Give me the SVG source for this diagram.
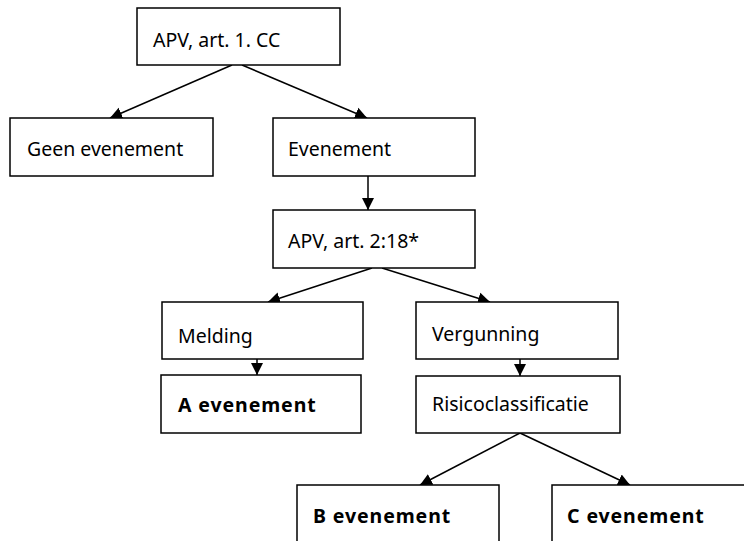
<svg xmlns="http://www.w3.org/2000/svg" width="744" height="541" viewBox="0 0 744 541">
<style>
.box{fill:#fff;stroke:#000;stroke-width:1.5}
.t{font-family:"Noto Sans","Open Sans",sans-serif;font-size:19.5px;fill:#000}
.b{font-weight:bold;letter-spacing:0.9px}
.c{stroke:#000;stroke-width:1.5;fill:none;marker-end:url(#ah)}
</style>
<defs>
<marker id="ah" markerUnits="userSpaceOnUse" markerWidth="13" markerHeight="13" refX="12" refY="6.5" orient="auto" viewBox="0 0 13 13">
<path d="M0,0.5 L12,6.5 L0,12.5 z" fill="#000"/>
</marker>
</defs>
<rect width="744" height="541" fill="#fff"/>
<g id="connectors">
<line class="c" x1="232" y1="65" x2="110" y2="118"/>
<line class="c" x1="242" y1="65" x2="367" y2="118"/>
<line class="c" x1="368" y1="176" x2="368" y2="210"/>
<line class="c" x1="372" y1="268" x2="268" y2="302"/>
<line class="c" x1="382" y1="268" x2="490" y2="302"/>
<line class="c" x1="257" y1="359" x2="257" y2="375"/>
<line class="c" x1="520" y1="359" x2="520" y2="376"/>
<line class="c" x1="520" y1="433" x2="420" y2="485"/>
<line class="c" x1="520" y1="433" x2="630" y2="485"/>
</g>
<g id="n1"><rect class="box" x="137" y="8" width="203" height="57"/><text class="t" x="153" y="47">APV, art. 1. CC</text></g>
<g id="n2"><rect class="box" x="10" y="118" width="203" height="58"/><text class="t" x="27" y="156">Geen evenement</text></g>
<g id="n3"><rect class="box" x="273" y="118" width="202" height="58"/><text class="t" x="288" y="156">Evenement</text></g>
<g id="n4"><rect class="box" x="273" y="210" width="202" height="58"/><text class="t" x="288" y="248">APV, art. 2:18*</text></g>
<g id="n5"><rect class="box" x="162" y="302" width="201" height="57"/><text class="t" x="178" y="343">Melding</text></g>
<g id="n6"><rect class="box" x="416" y="302" width="202" height="57"/><text class="t" x="432" y="341">Vergunning</text></g>
<g id="n7"><rect class="box" x="161" y="375" width="200" height="58"/><text class="t b" x="178" y="412">A evenement</text></g>
<g id="n8"><rect class="box" x="416" y="376" width="204" height="57"/><text class="t" x="432" y="411">Risicoclassificatie</text></g>
<g id="n9"><rect class="box" x="297" y="485" width="202" height="62"/><text class="t b" x="313" y="523">B evenement</text></g>
<g id="n10"><rect class="box" x="552" y="485" width="200" height="62"/><text class="t b" x="567" y="523">C evenement</text></g>
</svg>
